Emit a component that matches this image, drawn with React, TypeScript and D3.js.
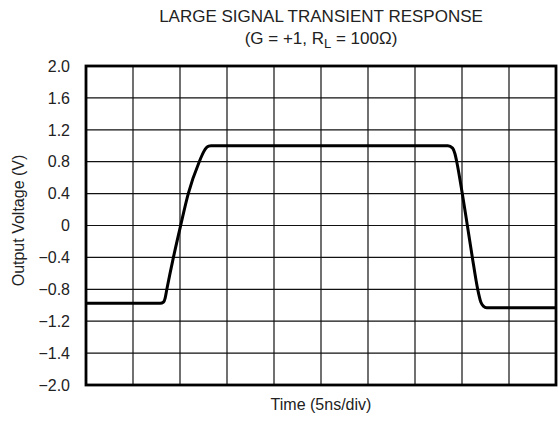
import { useEffect, useRef } from 'react';
import * as d3 from 'd3';

// time in ns (5 ns/div, 10 divisions), voltage in V
const timeNs = [0, 7.9, 8.25, 8.42, 8.6, 9.3, 10.07, 10.88, 12.05, 12.5, 12.8, 13.05, 13.3, 20, 30, 38.5, 39.0, 39.25, 39.44, 40.03, 40.57, 41.1, 41.67, 42.0, 42.27, 42.63, 50];
const voltage = [-0.976, -0.976, -0.96, -0.91, -0.8, -0.4, 0, 0.4, 0.8, 0.92, 0.975, 0.995, 1.0, 1.0, 1.0, 1.0, 0.97, 0.9, 0.8, 0.4, 0, -0.4, -0.8, -0.96, -1.01, -1.03, -1.03];

const yTickValues = [2.0, 1.6, 1.2, 0.8, 0.4, 0, -0.4, -0.8, -1.2, -1.6, -2.0];
const yTickLabels = ['2.0', '1.6', '1.2', '0.8', '0.4', '0', '\u22120.4', '\u22120.8', '\u22121.2', '\u22121.4', '\u22122.0'];
const xGridNs = [0, 5, 10, 15, 20, 25, 30, 35, 40, 45, 50];

export default function App() {
    const svgRef = useRef<SVGSVGElement>(null);

    useEffect(() => {
        const svg = d3.select(svgRef.current);
        svg.selectAll('*').remove();

        const left = 86, right = 556, top = 66, bottom = 385;
        const x = d3.scaleLinear().domain([0, 50]).range([left, right]);
        const y = d3.scaleLinear().domain([-2, 2]).range([bottom, top]);
        const font = 'Arial, "Liberation Sans", Helvetica, sans-serif';
        const textColor = '#222';

        const g = svg.append('g');

        // grid
        g.selectAll('.vgrid')
            .data(xGridNs)
            .enter()
            .append('line')
            .attr('x1', d => x(d)).attr('x2', d => x(d))
            .attr('y1', top).attr('y2', bottom)
            .attr('stroke', '#111')
            .attr('stroke-width', 1.2);

        g.selectAll('.hgrid')
            .data(yTickValues)
            .enter()
            .append('line')
            .attr('x1', left).attr('x2', right)
            .attr('y1', d => y(d)).attr('y2', d => y(d))
            .attr('stroke', '#111')
            .attr('stroke-width', 1.2);

        // frame
        g.append('rect')
            .attr('x', left).attr('y', top)
            .attr('width', right - left).attr('height', bottom - top)
            .attr('fill', 'none')
            .attr('stroke', '#000')
            .attr('stroke-width', 2.8);

        // y tick labels
        g.selectAll('.ylab')
            .data(yTickValues)
            .enter()
            .append('text')
            .attr('x', 70)
            .attr('y', d => y(d))
            .attr('dy', '0.36em')
            .attr('text-anchor', 'end')
            .attr('font-family', font)
            .attr('font-size', 16)
            .attr('fill', textColor)
            .text((d, i) => yTickLabels[i]);

        // curve
        const pts = timeNs.map((t, i) => [t, voltage[i]] as [number, number]);
        const line = d3.line<[number, number]>()
            .x(d => x(d[0]))
            .y(d => y(d[1]))
            .curve(d3.curveMonotoneX);

        g.append('path')
            .datum(pts)
            .attr('d', line)
            .attr('fill', 'none')
            .attr('stroke', '#000')
            .attr('stroke-width', 3)
            .attr('stroke-linejoin', 'round');

        // titles
        g.append('text')
            .attr('x', 321).attr('y', 22)
            .attr('text-anchor', 'middle')
            .attr('font-family', font)
            .attr('font-size', 17)
            .attr('fill', textColor)
            .text('LARGE SIGNAL TRANSIENT RESPONSE');

        const sub = g.append('text')
            .attr('x', 321).attr('y', 44)
            .attr('text-anchor', 'middle')
            .attr('font-family', font)
            .attr('font-size', 17)
            .attr('fill', textColor);
        sub.append('tspan').text('(G = +1, R');
        sub.append('tspan').attr('dy', 4).attr('font-size', 13).text('L');
        sub.append('tspan').attr('dy', -4).text(' = 100\u03A9)');

        g.append('text')
            .attr('transform', `translate(24, ${(top + bottom) / 2 - 5}) rotate(-90)`)
            .attr('text-anchor', 'middle')
            .attr('font-family', font)
            .attr('font-size', 16)
            .attr('fill', textColor)
            .text('Output Voltage (V)');

        g.append('text')
            .attr('x', (left + right) / 2)
            .attr('y', 410)
            .attr('text-anchor', 'middle')
            .attr('font-family', font)
            .attr('font-size', 16)
            .attr('fill', textColor)
            .text('Time (5ns/div)');
    }, []);

    return (
        <svg
            ref={svgRef}
            width={558}
            height={423}
            style={{ position: 'absolute', left: 0, top: 0, background: '#fff' }}
        />
    );
}
